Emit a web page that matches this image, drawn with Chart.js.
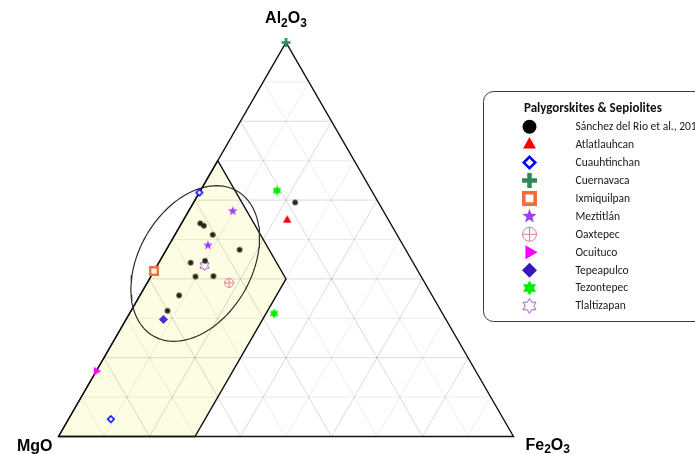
<!DOCTYPE html>
<html><head><meta charset="utf-8">
<script src="https://cdn.jsdelivr.net/npm/chart.js@4/dist/chart.umd.min.js"></script>
<style>html,body{margin:0;padding:0;background:#fff;overflow:hidden}canvas{display:block}</style>
</head><body>
<canvas id="c" width="695" height="454"></canvas>
<script>
// ---------------- DATA : ternary compositions [Al2O3, MgO, Fe2O3] (%) ----------------
const axisLabels = ['Al2O3', 'MgO', 'Fe2O3'];
const legendTitle = 'Palygorskites & Sepiolites';
const categories = ['Sánchez del Rio et al., 2010', 'Atlatlauhcan', 'Cuauhtinchan', 'Cuernavaca',
  'Ixmiquilpan', 'Meztitlán', 'Oaxtepec', 'Ocuituco', 'Tepeapulco', 'Tezontepec', 'Tlaltizapan'];

const sanchezDelRio = [[54.1, 41.8, 4.1], [53.5, 41.3, 5.2], [51.2, 40.5, 8.3], [47.4, 36.5, 16.1],
  [44.1, 48.9, 7.0], [44.6, 45.5, 9.9], [40.6, 49.6, 9.8], [40.7, 45.6, 13.7], [35.8, 55.6, 8.6],
  [31.9, 60.1, 8.0], [59.4, 18.3, 22.3]];
const atlatlauhcan = [[54.9, 22.3, 22.8]];
const cuauhtinchan = [[61.9, 38.1, 0], [4.4, 86.3, 9.3]];
const cuernavaca = [[100, 0, 0]];
const ixmiquilpan = [[42.0, 58.0, 0]];
const meztitlan = [[57.2, 33.1, 9.7], [48.5, 42.9, 8.6]];
const oaxtepec = [[39.0, 43.0, 18.0]];
const ocuituco = [[16.6, 83.4, 0]];
const tepeapulco = [[29.7, 62.1, 8.2]];
const tezontepec = [[62.4, 20.8, 16.8], [31.2, 37.0, 31.8]];
const tlaltizapan = [[43.4, 46.2, 10.4]];

const seriesValues = [sanchezDelRio, atlatlauhcan, cuauhtinchan, cuernavaca, ixmiquilpan,
  meztitlan, oaxtepec, ocuituco, tepeapulco, tezontepec, tlaltizapan];

const gridSteps = [10, 20, 30, 40, 50, 60, 70, 80, 90];
const fieldRegion = [[70, 30, 0], [40, 30, 30], [0, 70, 30], [0, 100, 0]];
const ellipseCenter = [43.9, 48.0, 8.1];
const ellipseAxes = [18.4, 12.4];
const ellipseAngleDeg = 60;

// ---------------- STYLES ----------------
const seriesStyles = [
  {shape: 'dot', color: '#26261c', size: 5.5, legendColor: '#000000', legendSize: 14},
  {shape: 'triUp', color: '#ff0000', size: 8.5, legendSize: 13},
  {shape: 'diamondOpen', color: '#0000ff', size: 8, lw: 1.6, legendSize: 14, legendLw: 2.6},
  {shape: 'plus', color: '#2e8b57', size: 9, legendSize: 15},
  {shape: 'squareOpen', color: '#f26d3d', size: 10, legendSize: 15},
  {shape: 'star5', color: '#a040f0', size: 10, legendSize: 15},
  {shape: 'circleCross', color: '#e07a95', size: 10, legendSize: 15},
  {shape: 'triRight', color: '#ff00ff', size: 8.5, legendSize: 14},
  {shape: 'diamond', color: '#4b2ccc', size: 9, legendColor: '#3a18b8', legendSize: 15},
  {shape: 'hexagram', color: '#00ee00', size: 10, legendSize: 15},
  {shape: 'hexagramOpen', color: '#a050c0', size: 10.5, legendSize: 15}
];
const PLOT = {left: 58.5, bottom: 436.5, unit: 4.55, W: 695, H: 454};

// ---------------- helpers ----------------
const SQ3 = Math.sqrt(3) / 2;
function toXY(c) {
  const t = c[0] + c[1] + c[2];
  const a = c[0] / t * 100, f = c[2] / t * 100;
  return {x: f + a / 2, y: a * SQ3};
}

function drawShape(ctx, shape, cx, cy, s, color, lw) {
  ctx.save();
  ctx.fillStyle = color; ctx.strokeStyle = color;
  const r = s / 2;
  ctx.beginPath();
  switch (shape) {
    case 'dot':
      ctx.arc(cx, cy, r, 0, Math.PI * 2); ctx.fill(); break;
    case 'triUp': {
      const h = s * SQ3;
      ctx.moveTo(cx, cy - h * 2 / 3); ctx.lineTo(cx + r, cy + h / 3); ctx.lineTo(cx - r, cy + h / 3);
      ctx.closePath(); ctx.fill(); break;
    }
    case 'triRight': {
      const h = s * SQ3;
      ctx.moveTo(cx + h * 2 / 3, cy); ctx.lineTo(cx - h / 3, cy + r); ctx.lineTo(cx - h / 3, cy - r);
      ctx.closePath(); ctx.fill(); break;
    }
    case 'diamond':
      ctx.moveTo(cx, cy - r); ctx.lineTo(cx + r, cy); ctx.lineTo(cx, cy + r); ctx.lineTo(cx - r, cy);
      ctx.closePath(); ctx.fill(); break;
    case 'diamondOpen': {
      const w = lw || s * 0.2, q = r - w / 2;
      ctx.lineWidth = w;
      ctx.moveTo(cx, cy - q); ctx.lineTo(cx + q, cy); ctx.lineTo(cx, cy + q); ctx.lineTo(cx - q, cy);
      ctx.closePath(); ctx.fillStyle = '#fff'; ctx.fill(); ctx.stroke(); break;
    }
    case 'plus': {
      ctx.lineWidth = s * 0.3;
      ctx.moveTo(cx - r, cy); ctx.lineTo(cx + r, cy); ctx.moveTo(cx, cy - r); ctx.lineTo(cx, cy + r);
      ctx.stroke(); break;
    }
    case 'squareOpen': {
      const w = s * 0.24, q = r - w / 2;
      ctx.lineWidth = w;
      ctx.rect(cx - q, cy - q, 2 * q, 2 * q); ctx.fillStyle = '#fff'; ctx.fill(); ctx.stroke(); break;
    }
    case 'star5': {
      for (let i = 0; i < 10; i++) {
        const rr = i % 2 === 0 ? r : r * 0.42;
        const ang = -Math.PI / 2 + i * Math.PI / 5;
        const px = cx + rr * Math.cos(ang), py = cy + rr * Math.sin(ang);
        if (i === 0) ctx.moveTo(px, py); else ctx.lineTo(px, py);
      }
      ctx.closePath(); ctx.fill(); break;
    }
    case 'circleCross': {
      ctx.lineWidth = 1;
      ctx.arc(cx, cy, r - 0.5, 0, Math.PI * 2);
      ctx.moveTo(cx - r + 0.5, cy); ctx.lineTo(cx + r - 0.5, cy);
      ctx.moveTo(cx, cy - r + 0.5); ctx.lineTo(cx, cy + r - 0.5);
      ctx.stroke(); break;
    }
    case 'hexagram':
    case 'hexagramOpen': {
      const inner = r / Math.sqrt(3);
      for (let i = 0; i < 12; i++) {
        const rr = i % 2 === 0 ? r : inner;
        const ang = -Math.PI / 2 + i * Math.PI / 6;
        const px = cx + rr * Math.cos(ang), py = cy + rr * Math.sin(ang);
        if (i === 0) ctx.moveTo(px, py); else ctx.lineTo(px, py);
      }
      ctx.closePath();
      if (shape === 'hexagram') ctx.fill();
      else { ctx.lineWidth = 0.9; ctx.fillStyle = '#fff'; ctx.fill(); ctx.stroke(); }
      break;
    }
  }
  ctx.restore();
}

function markerCanvas(st) {
  const n = Math.ceil(st.size) + 4;
  const cv = document.createElement('canvas');
  cv.width = n; cv.height = n;
  drawShape(cv.getContext('2d'), st.shape, n / 2, n / 2, st.size, st.color, st.lw);
  return cv;
}

// ---------------- datasets ----------------
const gap = {x: null, y: null};
function gridData(even) {
  const out = [];
  gridSteps.forEach(k => {
    if ((k % 20 === 0) !== even) return;
    const segs = [
      [[k, 100 - k, 0], [k, 0, 100 - k]],
      [[100 - k, 0, k], [0, 100 - k, k]],
      [[100 - k, k, 0], [0, k, 100 - k]]
    ];
    segs.forEach(sg => { out.push(toXY(sg[0]), toXY(sg[1]), gap); });
  });
  return out;
}
const fieldPts = fieldRegion.map(toXY); fieldPts.push(toXY(fieldRegion[0]));
const trianglePts = [[0, 100, 0], [0, 0, 100], [100, 0, 0], [0, 100, 0]].map(toXY);
const ellipsePts = (() => {
  const c = toXY(ellipseCenter), th = ellipseAngleDeg * Math.PI / 180, pts = [];
  for (let d = 0; d <= 360; d += 3) {
    const t = d * Math.PI / 180;
    const ux = ellipseAxes[0] * Math.cos(t), uy = ellipseAxes[1] * Math.sin(t);
    pts.push({x: c.x + ux * Math.cos(th) - uy * Math.sin(th), y: c.y + ux * Math.sin(th) + uy * Math.cos(th)});
  }
  return pts;
})();

const lineBase = {type: 'line', pointRadius: 0, tension: 0, clip: false, fill: false};
const datasets = [];
seriesValues.forEach((vals, i) => {
  datasets.push({
    type: 'scatter', label: categories[i], data: vals.map(toXY),
    pointStyle: markerCanvas(seriesStyles[i]), pointRadius: 5, clip: false, order: 0
  });
});
datasets.push(Object.assign({}, lineBase, {label: 'ellipse', data: ellipsePts, borderColor: '#2e2e2e', borderWidth: 1.2, order: 1}));
datasets.push(Object.assign({}, lineBase, {label: 'triangle', data: trianglePts, borderColor: '#111', borderWidth: 1.4, order: 2}));
datasets.push(Object.assign({}, lineBase, {label: 'fieldOutline', data: fieldPts, borderColor: '#111', borderWidth: 1.4, order: 2}));
datasets.push(Object.assign({}, lineBase, {label: 'gridMajor', data: gridData(true), borderColor: 'rgba(0,0,0,0.15)', borderWidth: 1, order: 3}));
datasets.push(Object.assign({}, lineBase, {label: 'gridMinor', data: gridData(false), borderColor: 'rgba(0,0,0,0.08)', borderWidth: 1, order: 3}));
datasets.push(Object.assign({}, lineBase, {label: 'field', data: fieldPts, borderWidth: 0, borderColor: 'rgba(0,0,0,0)', backgroundColor: '#fdfde3', fill: 'shape', order: 4}));

// ---------------- plugins ----------------
function drawChem(ctx, text, x, y, align, size) {
  const big = 'bold ' + size + 'px "Liberation Sans", Arial, sans-serif';
  const small = 'bold ' + Math.round(size * 0.72) + 'px "Liberation Sans", Arial, sans-serif';
  const parts = text.split(/(\d+)/).filter(p => p.length);
  let w = 0;
  parts.forEach(p => { ctx.font = /\d/.test(p) ? small : big; w += ctx.measureText(p).width; });
  let cx = align === 'center' ? x - w / 2 : align === 'right' ? x - w : x;
  ctx.textAlign = 'left'; ctx.textBaseline = 'alphabetic'; ctx.fillStyle = '#000';
  parts.forEach(p => {
    const sub = /\d/.test(p);
    ctx.font = sub ? small : big;
    ctx.fillText(p, cx, sub ? y + size * 0.22 : y);
    cx += ctx.measureText(p).width;
  });
}

const ternaryDecor = {
  id: 'ternaryDecor',
  afterDraw(chart) {
    const ctx = chart.ctx, xs = chart.scales.x, ys = chart.scales.y;
    const px = p => ({x: xs.getPixelForValue(p.x), y: ys.getPixelForValue(p.y)});
    const top = px(toXY([100, 0, 0])), bl = px(toXY([0, 100, 0])), br = px(toXY([0, 0, 100]));
    ctx.save();
    drawChem(ctx, axisLabels[0], top.x, top.y - 19, 'center', 16);
    drawChem(ctx, axisLabels[1], bl.x - 6, bl.y + 14, 'right', 16);
    drawChem(ctx, axisLabels[2], br.x + 12, br.y + 13, 'left', 16);

    // legend box
    const lx = 483.5, ly = 91.5, lw = 300, lh = 230, rad = 10;
    ctx.beginPath();
    ctx.moveTo(lx + rad, ly); ctx.lineTo(lx + lw - rad, ly); ctx.arcTo(lx + lw, ly, lx + lw, ly + rad, rad);
    ctx.lineTo(lx + lw, ly + lh - rad); ctx.arcTo(lx + lw, ly + lh, lx + lw - rad, ly + lh, rad);
    ctx.lineTo(lx + rad, ly + lh); ctx.arcTo(lx, ly + lh, lx, ly + lh - rad, rad);
    ctx.lineTo(lx, ly + rad); ctx.arcTo(lx, ly, lx + rad, ly, rad); ctx.closePath();
    ctx.fillStyle = '#fff'; ctx.fill();
    ctx.strokeStyle = '#3a3a3a'; ctx.lineWidth = 1; ctx.stroke();

    ctx.fillStyle = '#111';
    ctx.font = 'bold 13px Carlito, Lato, "Liberation Sans", sans-serif';
    ctx.textAlign = 'left'; ctx.textBaseline = 'middle';
    ctx.fillText(legendTitle, 524, 108.5);
    ctx.font = '11.5px Carlito, Lato, "Liberation Sans", sans-serif';
    categories.forEach((name, i) => {
      const yy = 126.7 + i * 17.93;
      const st = seriesStyles[i];
      drawShape(ctx, st.shape, 529.5, yy, st.legendSize, st.legendColor || st.color, st.legendLw);
      ctx.fillStyle = '#1a1a1a';
      ctx.fillText(name, 575.5, yy + 0.5);
    });
    ctx.restore();
  }
};

new Chart(document.getElementById('c'), {
  type: 'scatter',
  data: {datasets},
  options: {
    responsive: false, animation: false, events: [], devicePixelRatio: 1,
    layout: {padding: 0, autoPadding: false},
    plugins: {legend: {display: false}, tooltip: {enabled: false}},
    scales: {
      x: {type: 'linear', display: false, min: -PLOT.left / PLOT.unit, max: (PLOT.W - PLOT.left) / PLOT.unit},
      y: {type: 'linear', display: false, min: -(PLOT.H - PLOT.bottom) / PLOT.unit, max: PLOT.bottom / PLOT.unit}
    }
  },
  plugins: [ternaryDecor]
});
</script>
</body></html>
